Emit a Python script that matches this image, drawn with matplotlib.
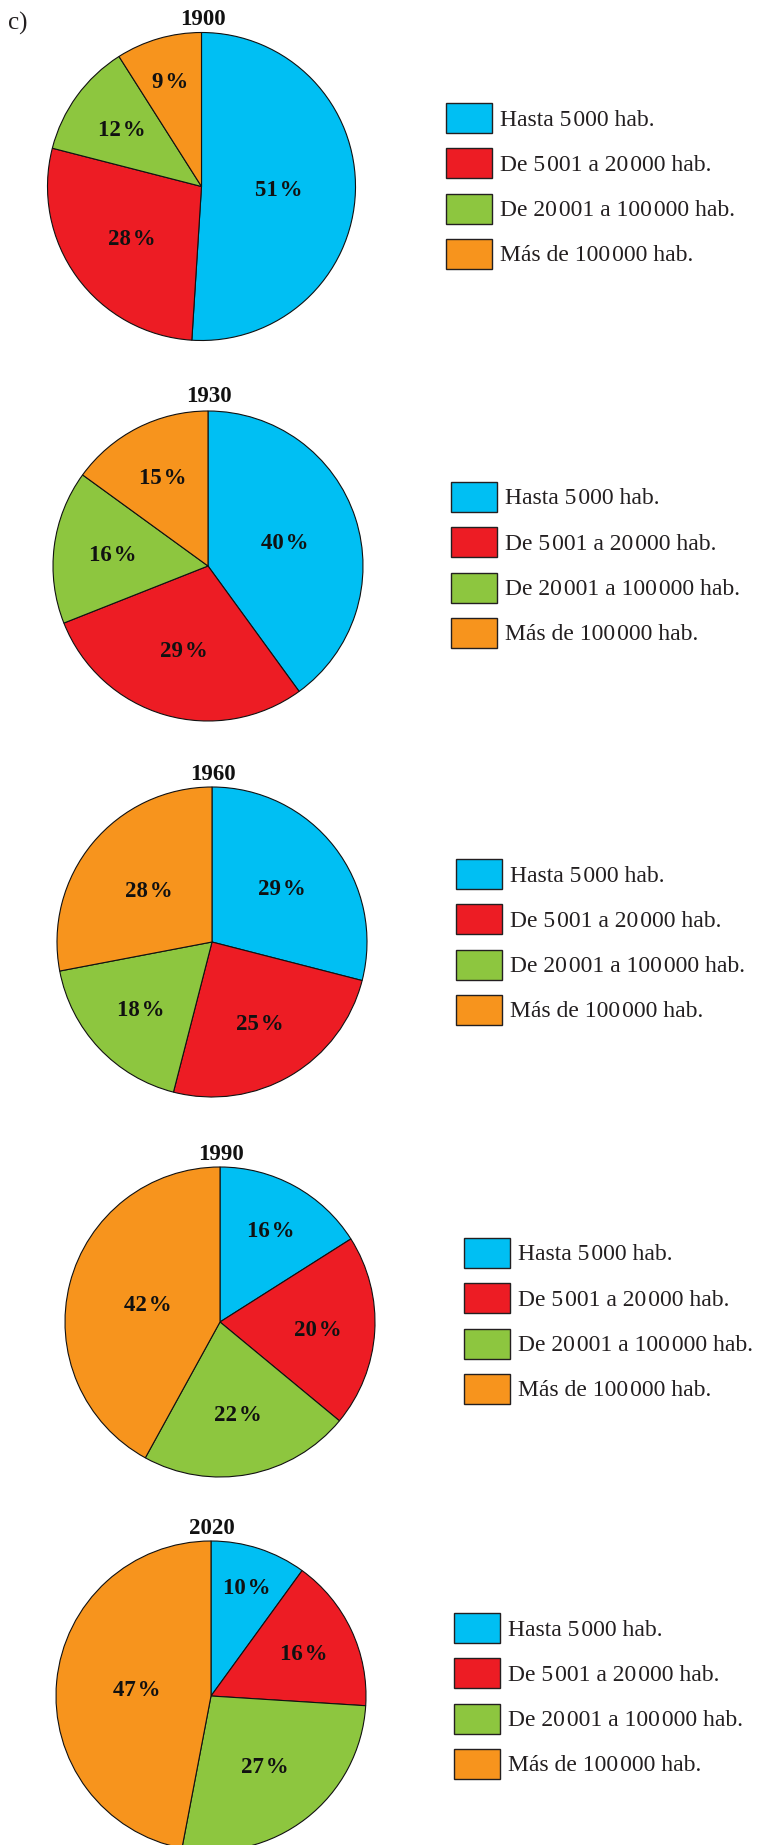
import matplotlib
matplotlib.use('Agg')
import matplotlib.pyplot as plt
from matplotlib.patches import Rectangle
import numpy as np

W, H, DPI = 758, 1845, 100

# ---------------- data ----------------
SP = '\u200a'  # hair space used as digit-group separator
years = ['1900', '1930', '1960', '1990', '2020']
categories = ['Hasta 5' + SP + '000 hab.',
              'De 5' + SP + '001 a 20' + SP + '000 hab.',
              'De 20' + SP + '001 a 100' + SP + '000 hab.',
              'Más de 100' + SP + '000 hab.']
hasta_5000 = [51, 40, 29, 16, 10]
de_5001_a_20000 = [28, 29, 25, 20, 16]
de_20001_a_100000 = [12, 16, 18, 22, 27]
mas_de_100000 = [9, 15, 28, 42, 47]
colors = ['#00BFF3', '#ED1C24', '#8DC63F', '#F7941D']

# ---------------- layout (pixels) ----------------
pie_centers = [(201.5, 186.5), (208, 566), (212, 942), (220, 1322), (211, 1696)]
pie_radius = [154, 155, 155, 155, 155]
title_base = [25, 402.5, 780.5, 1159.5, 1534.5]
label_frac = [[0.50, 0.56, 0.64, 0.72],
              [0.52, 0.56, 0.62, 0.65],
              [0.57, 0.60, 0.63, 0.53],
              [0.68, 0.63, 0.60, 0.48],
              [0.74, 0.66, 0.57, 0.48]]
legend_x = [446, 451, 456, 464, 454]
legend_y0 = [118, 497, 874, 1253, 1628]
legend_step = 45.3
box_w, box_h = 46, 30

SERIF = ['Liberation Serif', 'DejaVu Serif']

fig = plt.figure(figsize=(W / DPI, H / DPI), dpi=DPI)
fig.patch.set_facecolor('white')

def fx(x):
    return x / W

def fy(y):
    return 1 - y / H

fig.text(fx(8), fy(30), 'c)', ha='left', va='baseline', fontsize=18,
         family=SERIF, color='#231F20')

for i, year in enumerate(years):
    vals = [hasta_5000[i], de_5001_a_20000[i], de_20001_a_100000[i], mas_de_100000[i]]
    cx, cy = pie_centers[i]
    r = pie_radius[i]
    ax = fig.add_axes([fx(cx - r), fy(cy + r), 2 * r / W, 2 * r / H])
    wedges, _ = ax.pie(vals, colors=colors, startangle=90, counterclock=False,
                       radius=1,
                       wedgeprops=dict(edgecolor='#111111', linewidth=0.8,
                                       clip_on=False))
    ax.set_xlim(-1, 1)
    ax.set_ylim(-1, 1)
    ax.set_aspect('equal')
    ax.axis('off')

    for w, v, f in zip(wedges, vals, label_frac[i]):
        ang = np.deg2rad((w.theta1 + w.theta2) / 2)
        px = cx + f * r * np.cos(ang)
        py = cy - f * r * np.sin(ang)
        fig.text(fx(px), fy(py + 7.5), f'{v}{SP}%', ha='center', va='baseline',
                 fontsize=16.5, fontweight='bold', family=SERIF, color='#111111')

    fig.text(fx(cx + 1), fy(title_base[i]), year, ha='center', va='baseline',
             fontsize=16.5, fontweight='bold', family=SERIF, color='#111111')

    # legend
    for j, (cat, col) in enumerate(zip(categories, colors)):
        yc = legend_y0[i] + j * legend_step
        x0 = legend_x[i]
        rect = Rectangle((fx(x0), fy(yc + box_h / 2)), box_w / W, box_h / H,
                         transform=fig.transFigure, facecolor=col,
                         edgecolor='#231F20', linewidth=1.0)
        fig.add_artist(rect)
        fig.text(fx(x0 + box_w + 8), fy(yc + 7.5), cat, ha='left', va='baseline',
                 fontsize=17, family=SERIF, color='#231F20')

fig.savefig('out.png', dpi=DPI, facecolor='white')
